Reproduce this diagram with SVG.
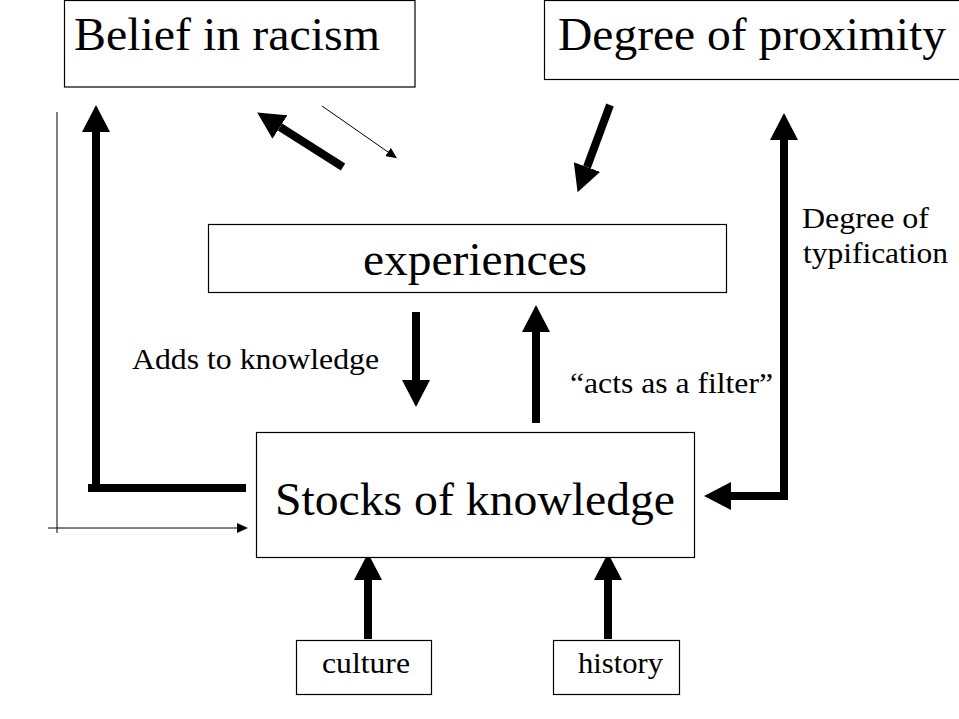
<svg xmlns="http://www.w3.org/2000/svg" width="959" height="719" viewBox="0 0 959 719">
<style>
.box{fill:#fff;stroke:#000;stroke-width:1.2}
.big{font-family:"Liberation Serif","Times New Roman",serif;font-size:46px;fill:#000}
.small{font-family:"Liberation Serif","Times New Roman",serif;font-size:30px;fill:#000}
.thick{fill:none;stroke:#000;stroke-width:8;stroke-linejoin:miter}
.thin{fill:none;stroke:#000;stroke-width:1}
</style>
<defs>
<marker id="head" markerUnits="userSpaceOnUse" viewBox="0 0 27 28" refX="0" refY="14" markerWidth="27" markerHeight="28" orient="auto-start-reverse">
<path d="M0,0 L27,14 L0,28 z" fill="#000"/>
</marker>
<marker id="thinhead" markerUnits="userSpaceOnUse" viewBox="0 0 11 10" refX="0" refY="5" markerWidth="11" markerHeight="10" orient="auto">
<path d="M0,0 L11,5 L0,10 z" fill="#000"/>
</marker>
</defs>
<rect width="959" height="719" fill="#fff"/>
<g id="connectors">
<path class="thin" d="M57,112 V533"/>
<path class="thin" d="M48,528 H237" marker-end="url(#thinhead)"/>
<path class="thick" d="M246,488 H88 M96,488 V132" marker-end="url(#head)"/>
<path class="thick" d="M784,140 V496 H731" marker-start="url(#head)" marker-end="url(#head)"/>
<path class="thick" d="M343,167 L280,127" marker-end="url(#head)"/>
<path class="thin" d="M322,106 L388,152" marker-end="url(#thinhead)"/>
<path class="thick" d="M610,105 L587,167" marker-end="url(#head)"/>
<path class="thick" d="M416,312 V380" marker-end="url(#head)"/>
<path class="thick" d="M536,423 V332" marker-end="url(#head)"/>
<path class="thick" d="M368,639 V580" marker-end="url(#head)"/>
<path class="thick" d="M608,639 V580" marker-end="url(#head)"/>
<text class="small" x="132" y="369" textLength="247" lengthAdjust="spacingAndGlyphs">Adds to knowledge</text>
<text class="small" x="570" y="393" textLength="203" lengthAdjust="spacingAndGlyphs">“acts as a filter”</text>
<text class="small" x="802" y="228" textLength="127" lengthAdjust="spacingAndGlyphs">Degree of</text>
<text class="small" x="803" y="263" textLength="145" lengthAdjust="spacingAndGlyphs">typification</text>
</g>
<g id="belief">
<rect class="box" x="64.5" y="0.5" width="350.5" height="86.5"/>
<text class="big" x="74" y="50" textLength="306" lengthAdjust="spacingAndGlyphs">Belief in racism</text>
</g>
<g id="proximity">
<rect class="box" x="544.5" y="0.5" width="430" height="79"/>
<text class="big" x="558" y="50" textLength="388" lengthAdjust="spacingAndGlyphs">Degree of proximity</text>
</g>
<g id="experiences">
<rect class="box" x="208.5" y="224.5" width="518" height="68"/>
<text class="big" x="363" y="275" textLength="224" lengthAdjust="spacingAndGlyphs">experiences</text>
</g>
<g id="stocks">
<rect class="box" x="256.5" y="432.5" width="438" height="125"/>
<text class="big" x="275" y="515" textLength="400" lengthAdjust="spacingAndGlyphs">Stocks of knowledge</text>
</g>
<g id="culture">
<rect class="box" x="296.5" y="640.5" width="135" height="54"/>
<text class="small" x="322" y="673" textLength="88" lengthAdjust="spacingAndGlyphs">culture</text>
</g>
<g id="history">
<rect class="box" x="553.5" y="640.5" width="126" height="54"/>
<text class="small" x="578" y="673" textLength="85" lengthAdjust="spacingAndGlyphs">history</text>
</g>
</svg>
